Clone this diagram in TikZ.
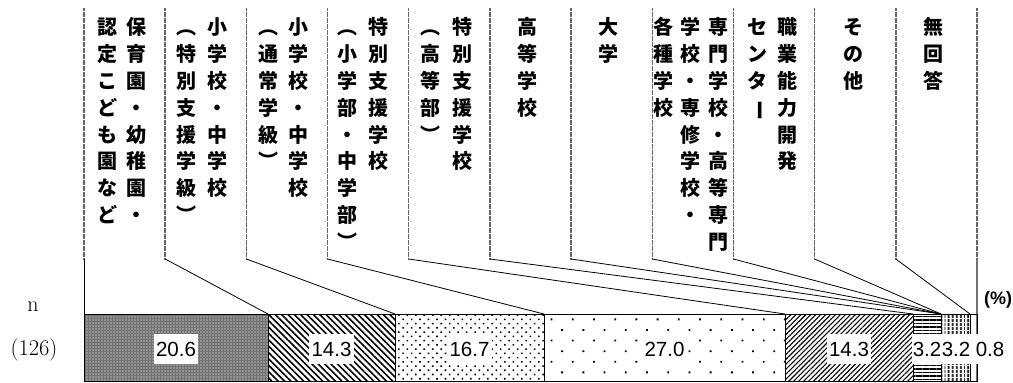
\documentclass[tikz,border=0pt]{standalone}
\usepackage{fontspec}
\usepackage{graphicx}
\usetikzlibrary{patterns.meta}
\newfontfamily\cjk{Noto Sans CJK JP}
\newfontfamily\numfont{Liberation Sans}
\tikzset{
  tate/.style={font=\cjk\bfseries\fontsize{20}{26.8}\selectfont, align=center, anchor=north, inner sep=0pt},
  leader/.style={draw=black!60, line width=1.5pt, dash pattern=on 0.7pt off 0.5pt},
  link/.style={draw=black, line width=0.8pt},
  seg/.style={draw=black, line width=0.9pt},
  num/.style={font=\numfont\fontsize{20.5}{24}\selectfont, fill=white, inner xsep=2.5pt, inner ysep=8pt, text height=14.8pt, text depth=0pt},
}
\begin{document}
\begin{tikzpicture}[x=1pt, y=-1pt]
    \useasboundingbox (0,0) rectangle (1013,383);
    \coordinate (base) at (0,381.5);
    % leaders from the label columns down to the bar
    \foreach \b [count=\i from 0] in {84,268,395,544,785,913,941,941,941,941,970,977} {
        \coordinate (top\i) at (84+81.18*\i, 8);
        \coordinate (bend\i) at (84+81.18*\i, 259);
        \coordinate (bar\i) at (\b, 314);
        \draw [leader] (top\i) -- (bend\i);
    }
    \foreach \i in {0,...,10} \draw [link] (bend\i) -- (bar\i);
    \draw [draw=black!55, line width=1.4pt] (bend11) -- (bend11 |- base);
    % bar segments
    \draw [seg, preaction={fill=black!55}, pattern={Dots[distance=3pt, radius=0.65pt]}, pattern color=white] (bar0) rectangle (bar1 |- base);
    \draw [seg, pattern={Lines[angle=-45, distance=4.5pt, line width=1.6pt]}] (bar1) rectangle (bar2 |- base);
    \draw [seg, pattern={Dots[distance=6pt, angle=45, radius=1.1pt]}] (bar2) rectangle (bar3 |- base);
    \draw [seg, pattern={Dots[distance=15pt, angle=45, radius=1.3pt]}] (bar3) rectangle (bar4 |- base);
    \draw [seg, pattern={Lines[angle=45, distance=3.5pt, line width=1.1pt]}] (bar4) rectangle (bar5 |- base);
    \draw [seg, pattern={Lines[angle=0, distance=3.5pt, line width=1.7pt]}] (bar5) rectangle (bar6 |- base);
    \draw [seg, pattern={Lines[angle=90, distance=4pt, line width=2.1pt]}] (bar9) rectangle (bar10 |- base);
    \draw [seg] (bar10) rectangle (bar11 |- base);
    % values
    \node [num] (v1) at (176,349) {20.6};
    \node [num] (v2) at (331.5,349) {14.3};
    \node [num] (v3) at (469.5,349) {16.7};
    \node [num] (v4) at (664.5,349) {27.0};
    \node [num] (v5) at (849,349) {14.3};
    \node [num, inner xsep=0.3pt] (v6) at (927,349) {3.2};
    \node [num, inner xsep=0.3pt] (v7) at (956,349) {3.2};
    \node [num, inner xsep=1pt] (v8) at (990,349) {0.8};
    \node [font=\numfont\bfseries\fontsize{18}{20}\selectfont] (unit) at (998,300) {(\%)};
    \node [font=\fontsize{22}{26}\selectfont] (n) at (33,307) {n};
    \node [font=\fontsize{22.5}{26}\selectfont] (total) at (34,350) {(126)};
    % category labels, written top to bottom
    \node [tate] (hoiku) at (136,16) {\strut 保\\育\\園\\・\\幼\\稚\\園\\・};
    \node [tate] (nintei) at (107,16) {\strut 認\\定\\こ\\ど\\も\\園\\な\\ど};
    \node [tate] (shoA) at (217,16) {\strut 小\\学\\校\\・\\中\\学\\校};
    \node [tate] (shoAsub) at (186,16) {\strut ︵\\特\\別\\支\\援\\学\\級\\︶};
    \node [tate] (shoB) at (298,16) {\strut 小\\学\\校\\・\\中\\学\\校};
    \node [tate] (shoBsub) at (268,16) {\strut ︵\\通\\常\\学\\級\\︶};
    \node [tate] (tokuA) at (378,16) {\strut 特\\別\\支\\援\\学\\校};
    \node [tate] (tokuAsub) at (347,16) {\strut ︵\\小\\学\\部\\・\\中\\学\\部\\︶};
    \node [tate] (tokuB) at (462,16) {\strut 特\\別\\支\\援\\学\\校};
    \node [tate] (tokuBsub) at (430,16) {\strut ︵\\高\\等\\部\\︶};
    \node [tate] (koko) at (527,16) {\strut 高\\等\\学\\校};
    \node [tate] (daigaku) at (608,16) {\strut 大\\学};
    \node [tate] (senmon) at (718,16) {\strut 専\\門\\学\\校\\・\\高\\等\\専\\門};
    \node [tate] (senshu) at (690,16) {\strut 学\\校\\・\\専\\修\\学\\校\\・};
    \node [tate] (kakushu) at (663,16) {\strut 各\\種\\学\\校};
    \node [tate] (shokugyo) at (787,16) {\strut 職\\業\\能\\力\\開\\発};
    \node [tate] (center) at (757,16) {\strut セ\\ン\\タ\\\rotatebox[origin=c]{-90}{ー}};
    \node [tate] (sonota) at (853,16) {\strut そ\\の\\他};
    \node [tate] (mukaito) at (933,16) {\strut 無\\回\\答};
\end{tikzpicture}
\end{document}
